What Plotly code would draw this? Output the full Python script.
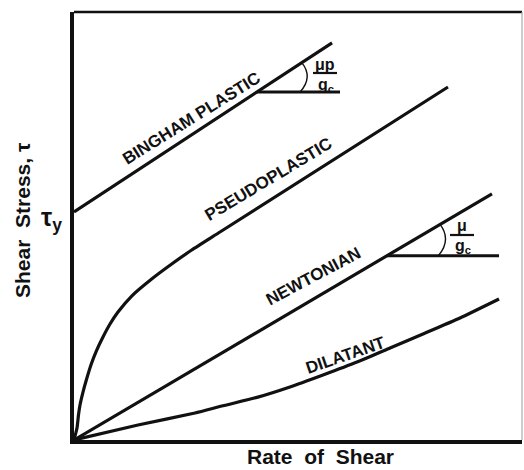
import plotly.graph_objects as go

# Flow curves: shear stress vs. rate of shear (arbitrary units, 0-10 on both axes)
bingham_rate = [0.0, 5.76]
bingham_stress = [5.33, 9.28]

pseudo_rate = [0.0, 0.067, 0.100, 0.134, 0.201, 0.275, 0.386, 0.498, 0.647, 0.804, 0.982,
               1.288, 1.734, 2.181, 2.627, 3.259, 8.348]
pseudo_stress = [0.0, 0.280, 0.584, 0.818, 1.121, 1.402, 1.776, 2.079, 2.407, 2.710, 2.991,
                 3.364, 3.762, 4.112, 4.439, 4.860, 8.248]

newton_rate = [0.0, 9.33]
newton_stress = [0.0, 5.75]

dilatant_rate = [0.0, 1.429, 2.701, 3.326, 4.085, 4.821, 5.558, 6.317, 7.054, 7.790, 8.616, 9.487]
dilatant_stress = [0.0, 0.350, 0.631, 0.800, 0.995, 1.238, 1.519, 1.822, 2.150, 2.477, 2.850, 3.294]

curve_labels = ["BINGHAM PLASTIC", "PSEUDOPLASTIC", "NEWTONIAN", "DILATANT"]

FONT = "Liberation Sans"
INK = "#111111"

# plot area in page pixels
L, R, T, B = 74, 522, 12, 440
W, H = 524, 470


def to_data(xp, yp):
    return ((xp - L) / (R - L) * 10.0, (B - yp) / (B - T) * 10.0)


def to_paper(xp, yp):
    return ((xp - L) / (R - L), (B - yp) / (B - T))


def line_at(xs, ys, x):
    return ys[0] + (ys[1] - ys[0]) / (xs[1] - xs[0]) * (x - xs[0])


fig = go.Figure()
for xs, ys in [(bingham_rate, bingham_stress), (pseudo_rate, pseudo_stress),
               (newton_rate, newton_stress), (dilatant_rate, dilatant_stress)]:
    fig.add_trace(go.Scatter(x=xs, y=ys, mode="lines",
                             line=dict(color=INK, width=3.2, shape="spline", smoothing=0.5),
                             hoverinfo="skip", showlegend=False))

shapes = []
annotations = []


def slope_marker(xs, ys, x_vertex, x_end, x_arc):
    """Horizontal reference line from a point on a straight flow line,
    plus a small arc showing the slope angle."""
    yv = line_at(xs, ys, x_vertex)
    shapes.append(dict(type="line", xref="x", yref="y", x0=x_vertex, y0=yv,
                       x1=x_end, y1=yv, line=dict(color=INK, width=3)))
    x0, y0 = x_arc + 0.04, line_at(xs, ys, x_arc + 0.04)
    x2, y2 = x_arc, yv
    cx, cy = x_arc + 0.30, (y0 + y2) / 2
    shapes.append(dict(type="path", xref="x", yref="y",
                       path=f"M {x0},{y0} Q {cx},{cy} {x2},{y2}",
                       line=dict(color=INK, width=1.4)))


slope_marker(bingham_rate, bingham_stress, 4.085, 5.938, 5.045)
slope_marker(newton_rate, newton_stress, 6.987, 9.487, 8.132)


def fraction(num, den, xc, y_num, y_bar, y_den, half):
    xn, yn = to_data(xc, y_num)
    annotations.append(dict(x=xn, y=yn, xref="x", yref="y", text=num, showarrow=False,
                            font=dict(family=FONT, size=16, color=INK, weight="bold"),
                            xanchor="center", yanchor="middle"))
    xa, yb = to_data(xc - half, y_bar)
    xb, _ = to_data(xc + half, y_bar)
    shapes.append(dict(type="line", xref="x", yref="y", x0=xa, y0=yb, x1=xb, y1=yb,
                       line=dict(color=INK, width=2.2)))
    xd, yd = to_data(xc + 1, y_den)
    annotations.append(dict(x=xd, y=yd, xref="x", yref="y", text=den, showarrow=False,
                            font=dict(family=FONT, size=16, color=INK, weight="bold"),
                            xanchor="center", yanchor="middle"))


fraction("μp", "g<sub>c</sub>", 325, 64, 73, 85, 12)
fraction("μ", "g<sub>c</sub>", 462, 225, 235, 246, 12)

# labels along the curves
label_pos = [(191, 118, -32), (268, 179, -31), (313, 276, -28), (345, 355, -19)]
for text, (xp, yp, ang) in zip(curve_labels, label_pos):
    xd, yd = to_data(xp, yp)
    annotations.append(dict(x=xd, y=yd, xref="x", yref="y", text=text, showarrow=False,
                            textangle=ang, xanchor="center", yanchor="middle",
                            font=dict(family=FONT, size=17, color=INK, weight="bold")))

# axis titles and yield stress marker
xp, yp = to_paper(320, 457)
annotations.append(dict(x=xp, y=yp, xref="paper", yref="paper", text="Rate  of  Shear",
                        showarrow=False, xanchor="center", yanchor="middle",
                        font=dict(family=FONT, size=21, color=INK, weight="bold")))
xp, yp = to_paper(22, 220)
annotations.append(dict(x=xp, y=yp, xref="paper", yref="paper", text="Shear  Stress, τ",
                        showarrow=False, textangle=-90, xanchor="center", yanchor="middle",
                        font=dict(family=FONT, size=21, color=INK, weight="bold")))
xp, yp = to_paper(51, 219)
annotations.append(dict(x=xp, y=yp, xref="paper", yref="paper", text="τ<sub>y</sub>",
                        showarrow=False, xanchor="center", yanchor="middle",
                        font=dict(family=FONT, size=25, color=INK, weight="bold")))

# frame: heavy top edge, light right edge
shapes.append(dict(type="line", xref="paper", yref="paper", x0=0, y0=1, x1=1, y1=1,
                   line=dict(color=INK, width=2.5)))
shapes.append(dict(type="line", xref="paper", yref="paper", x0=1, y0=0, x1=1, y1=1,
                   line=dict(color="#9a9a9a", width=1)))

axis_common = dict(range=[0, 10], showgrid=False, zeroline=False, showticklabels=False,
                   ticks="", showline=True, linecolor=INK, linewidth=3.5, fixedrange=True)

fig.update_layout(
    width=W, height=H,
    margin=dict(l=L, r=W - R, t=T, b=H - B, pad=0),
    paper_bgcolor="white", plot_bgcolor="white",
    xaxis=axis_common, yaxis=axis_common,
    shapes=shapes, annotations=annotations,
    showlegend=False,
)

fig.write_html("out.html")
